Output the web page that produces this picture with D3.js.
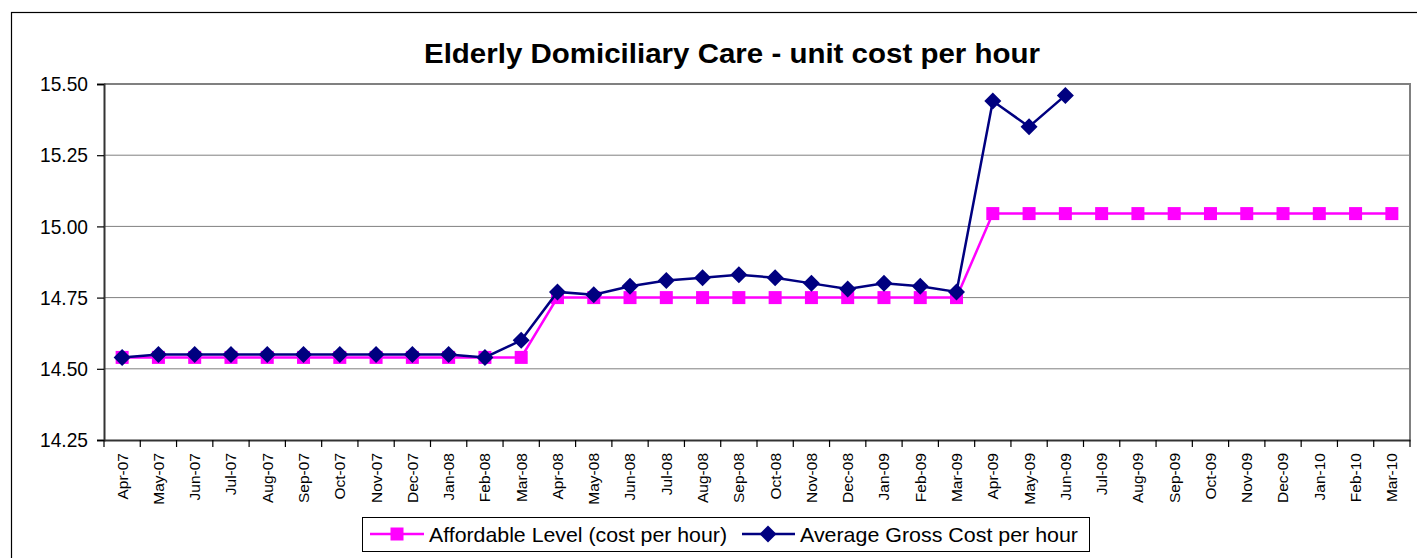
<html>
<head>
    <meta charset="UTF-8">
    <title>Elderly Domiciliary Care - unit cost per hour</title>
    <script src="https://cdnjs.cloudflare.com/ajax/libs/d3/7.8.5/d3.min.js"></script>
    <style>
        body { margin: 0; background: #fff; }
        text { font-family: "Liberation Sans", Arial, sans-serif; }
    </style>
</head>
<body>
<script>
    var months = ["Apr-07","May-07","Jun-07","Jul-07","Aug-07","Sep-07","Oct-07","Nov-07","Dec-07","Jan-08","Feb-08","Mar-08",
                  "Apr-08","May-08","Jun-08","Jul-08","Aug-08","Sep-08","Oct-08","Nov-08","Dec-08","Jan-09","Feb-09","Mar-09",
                  "Apr-09","May-09","Jun-09","Jul-09","Aug-09","Sep-09","Oct-09","Nov-09","Dec-09","Jan-10","Feb-10","Mar-10"];

    var affordable = [14.54,14.54,14.54,14.54,14.54,14.54,14.54,14.54,14.54,14.54,14.54,14.54,
                      14.75,14.75,14.75,14.75,14.75,14.75,14.75,14.75,14.75,14.75,14.75,14.75,
                      15.045,15.045,15.045,15.045,15.045,15.045,15.045,15.045,15.045,15.045,15.045,15.045];

    var averageGross = [14.54,14.55,14.55,14.55,14.55,14.55,14.55,14.55,14.55,14.55,14.54,14.60,
                        14.77,14.76,14.79,14.81,14.82,14.83,14.82,14.80,14.78,14.80,14.79,14.77,
                        15.44,15.35,15.46];

    var yTicks = [14.25, 14.50, 14.75, 15.00, 15.25, 15.50];
    var seriesNames = ["Affordable Level (cost per hour)", "Average Gross Cost per hour"];

    var width = 1417, height = 558;
    var plot = {left: 104, right: 1410, top: 84, bottom: 440};

    var svg = d3.select("body").append("svg")
            .attr("width", width)
            .attr("height", height);

    // outer chart frame (only top and left visible in the crop)
    svg.append("rect")
            .attr("x", 11.5).attr("y", 12.5)
            .attr("width", 1500).attr("height", 600)
            .attr("fill", "none")
            .attr("stroke", "#000")
            .attr("stroke-width", 1.2);

    svg.append("text")
            .attr("x", 732).attr("y", 63)
            .attr("text-anchor", "middle")
            .attr("font-size", 28.5)
            .attr("font-weight", "bold")
            .attr("textLength", 616)
            .attr("lengthAdjust", "spacingAndGlyphs")
            .text("Elderly Domiciliary Care - unit cost per hour");

    var x = d3.scaleBand()
            .domain(months)
            .range([plot.left, plot.right]);

    var y = d3.scaleLinear()
            .domain([14.25, 15.5])
            .range([plot.bottom, plot.top]);

    function cx(i) { return x(months[i]) + x.bandwidth() / 2; }

    // gridlines
    svg.append("g").selectAll("line")
            .data(yTicks.slice(1, -1))
            .enter().append("line")
            .attr("x1", plot.left).attr("x2", plot.right)
            .attr("y1", function (d) { return y(d); })
            .attr("y2", function (d) { return y(d); })
            .attr("stroke", "#808080")
            .attr("stroke-width", 1);

    // plot frame top and right
    svg.append("path")
            .attr("d", "M" + plot.left + "," + plot.top + "H" + plot.right + "V" + plot.bottom)
            .attr("fill", "none")
            .attr("stroke", "#808080")
            .attr("stroke-width", 2);

    // y axis
    var yAxis = d3.axisLeft(y)
            .tickValues(yTicks)
            .tickFormat(d3.format(".2f"))
            .tickSize(7)
            .tickPadding(9);

    var gy = svg.append("g")
            .attr("transform", "translate(" + plot.left + ",0)")
            .call(yAxis);
    gy.select(".domain").attr("stroke", "#333").attr("stroke-width", 2);
    gy.selectAll(".tick line").attr("stroke", "#000").attr("stroke-width", 1.2);
    gy.selectAll(".tick text")
            .attr("font-size", 21)
            .attr("fill", "#000")
            .attr("font-family", "Liberation Sans, Arial, sans-serif")
            .attr("textLength", 48)
            .attr("lengthAdjust", "spacingAndGlyphs");

    // x axis
    var xAxis = d3.axisBottom(x).tickSize(0).tickPadding(0);
    var gx = svg.append("g")
            .attr("transform", "translate(0," + plot.bottom + ")")
            .call(xAxis);
    gx.select(".domain").attr("stroke", "#333").attr("stroke-width", 2);
    gx.selectAll(".tick text")
            .attr("font-size", 15.5)
            .attr("fill", "#000")
            .attr("font-family", "Liberation Sans, Arial, sans-serif")
            .attr("text-anchor", "end")
            .attr("dy", "0.35em")
            .attr("transform", "translate(0,13) rotate(-90)");

    // tick marks at category boundaries
    gx.selectAll(".bound")
            .data(months.concat(["end"]))
            .enter().append("line")
            .attr("x1", function (d, i) { return plot.left + i * x.step(); })
            .attr("x2", function (d, i) { return plot.left + i * x.step(); })
            .attr("y1", 0).attr("y2", 7)
            .attr("stroke", "#000")
            .attr("stroke-width", 1.2);

    var line = d3.line()
            .x(function (d, i) { return cx(i); })
            .y(function (d) { return y(d); });

    var magenta = "#FF00FF", navy = "#000080";

    // affordable series
    svg.append("path")
            .datum(affordable)
            .attr("d", line)
            .attr("fill", "none")
            .attr("stroke", magenta)
            .attr("stroke-width", 2.5);

    svg.append("g").selectAll("rect")
            .data(affordable)
            .enter().append("rect")
            .attr("x", function (d, i) { return cx(i) - 6.5; })
            .attr("y", function (d) { return y(d) - 6.5; })
            .attr("width", 13).attr("height", 13)
            .attr("fill", magenta);

    // average gross series
    svg.append("path")
            .datum(averageGross)
            .attr("d", line)
            .attr("fill", "none")
            .attr("stroke", navy)
            .attr("stroke-width", 2.5);

    var diamond = "M0,-8.5L8.5,0L0,8.5L-8.5,0Z";
    svg.append("g").selectAll("path")
            .data(averageGross)
            .enter().append("path")
            .attr("d", diamond)
            .attr("transform", function (d, i) { return "translate(" + cx(i) + "," + y(d) + ")"; })
            .attr("fill", navy);

    // legend
    var lg = svg.append("g");
    lg.append("rect")
            .attr("x", 362.5).attr("y", 517.5)
            .attr("width", 727).attr("height", 34)
            .attr("fill", "#fff")
            .attr("stroke", "#000")
            .attr("stroke-width", 1);

    lg.append("line")
            .attr("x1", 370).attr("x2", 424).attr("y1", 534).attr("y2", 534)
            .attr("stroke", magenta).attr("stroke-width", 2.5);
    lg.append("rect")
            .attr("x", 390.5).attr("y", 527.5).attr("width", 13).attr("height", 13)
            .attr("fill", magenta);
    lg.append("text")
            .attr("x", 429).attr("y", 542)
            .attr("font-size", 21)
            .attr("textLength", 298)
            .attr("lengthAdjust", "spacingAndGlyphs")
            .text(seriesNames[0]);

    lg.append("line")
            .attr("x1", 742).attr("x2", 795).attr("y1", 534).attr("y2", 534)
            .attr("stroke", navy).attr("stroke-width", 2.5);
    lg.append("path")
            .attr("d", diamond)
            .attr("transform", "translate(768,534)")
            .attr("fill", navy);
    lg.append("text")
            .attr("x", 800).attr("y", 542)
            .attr("font-size", 21)
            .attr("textLength", 278)
            .attr("lengthAdjust", "spacingAndGlyphs")
            .text(seriesNames[1]);
</script>
</body>
</html>
